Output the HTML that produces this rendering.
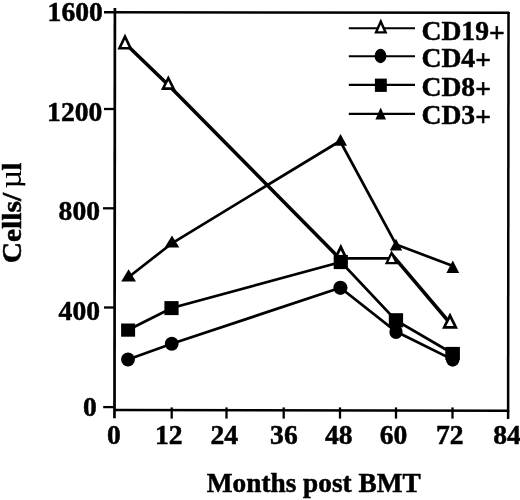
<!DOCTYPE html>
<html>
<head>
<meta charset="utf-8">
<title>Cells per µl versus months post BMT</title>
<style>
html,body{margin:0;padding:0;background:#fff;}
body{width:520px;height:500px;overflow:hidden;}
svg{display:block;filter:blur(0.3px);}
text{font-family:"Liberation Serif","DejaVu Serif",serif;font-weight:bold;fill:#000;}
</style>
</head>
<body>
<svg width="520" height="500" viewBox="0 0 520 500">
<rect x="0" y="0" width="520" height="500" fill="#fff"/>
<g stroke="#000" stroke-width="2.3" fill="none" stroke-linecap="butt">
<line x1="114.9" y1="8" x2="114.5" y2="418.3" stroke-width="2.7"/>
<line x1="104" y1="12.3" x2="509.7" y2="12.75" stroke-width="2.5"/>
<line x1="508.5" y1="12" x2="508.1" y2="419" stroke-width="2.5"/>
<line x1="114" y1="409.9" x2="509.3" y2="410.8" stroke-width="2.5"/>
<line x1="104" y1="109" x2="115" y2="109"/>
<line x1="103" y1="208.3" x2="115" y2="208.3"/>
<line x1="104" y1="307.5" x2="115" y2="307.5"/>
<line x1="103.2" y1="407.1" x2="115" y2="407.1"/>
<line x1="171.7" y1="407.4" x2="171.7" y2="418.6"/>
<line x1="226.5" y1="407.4" x2="226.5" y2="418.6"/>
<line x1="283.7" y1="407.4" x2="283.7" y2="418.6"/>
<line x1="340" y1="407.4" x2="340" y2="418.6"/>
<line x1="396" y1="407.4" x2="396" y2="418.6"/>
<line x1="452.5" y1="407.4" x2="452.5" y2="418.6"/>
</g>
<g stroke="#000" fill="none" stroke-linejoin="miter" stroke-linecap="butt">
<polyline stroke-width="2.7" points="128.75,277 172.3,243 340.1,141 396,244.5 453,266"/>
<polyline stroke-width="2.7" points="128,330 171.75,308 341,262 396,320.5 452.7,353.5"/>
<polyline stroke-width="2.7" points="128,359.5 171.75,343.75 340.4,287.8 396,331.5 452.7,359.6"/>
<polyline stroke-width="3.5" points="125,43.3 168.3,85 338.5,257.3"/>
<polyline stroke-width="2.7" points="341,258.3 392,258.3"/>
<polyline stroke-width="3.5" points="392,254.7 449.9,323"/>
</g>
<g stroke="none">
<polygon points="340.80,243.80 348.00,258.80 333.60,258.80" fill="#000"/><polygon points="340.80,250.27 343.55,256.00 338.05,256.00" fill="#fff"/>
<polygon points="128.60,269.20 136.00,281.60 121.20,281.60" fill="#000"/>
<polygon points="172.00,235.50 179.30,247.60 164.70,247.60" fill="#000"/>
<polygon points="340.50,134.00 347.00,145.70 334.00,145.70" fill="#000"/>
<polygon points="396.00,238.80 402.20,250.50 389.80,250.50" fill="#000"/>
<polygon points="452.80,260.40 459.20,273.10 446.40,273.10" fill="#000"/>
<rect x="121.1" y="323.5" width="14" height="13.2" fill="#000"/>
<rect x="164.4" y="301.1" width="14.2" height="14" fill="#000"/>
<rect x="333.7" y="254.9" width="14.2" height="14.2" fill="#000"/>
<rect x="388.8" y="313.2" width="14.3" height="14.2" fill="#000"/>
<rect x="445.3" y="346.9" width="14.6" height="13" fill="#000"/>
<ellipse cx="128" cy="359.5" rx="6.9" ry="6.9" fill="#000"/>
<ellipse cx="171.75" cy="343.75" rx="6.9" ry="6.9" fill="#000"/>
<ellipse cx="340.4" cy="287.8" rx="7.1" ry="7.1" fill="#000"/>
<ellipse cx="396" cy="331.9" rx="6.6" ry="7.2" fill="#000"/>
<ellipse cx="452.7" cy="359.6" rx="6.8" ry="7.1" fill="#000"/>
<polygon points="125.00,33.60 132.60,49.60 117.40,49.60" fill="#000"/><polygon points="125.00,39.66 128.49,47.00 121.51,47.00" fill="#fff"/>
<polygon points="168.30,75.20 175.70,89.90 160.90,89.90" fill="#000"/><polygon points="168.30,80.98 171.48,87.30 165.12,87.30" fill="#fff"/>
<polygon points="391.60,250.20 398.40,264.30 384.80,264.30" fill="#000"/><polygon points="391.60,255.38 394.82,262.05 388.38,262.05" fill="#fff"/>
<polygon points="450.00,312.60 458.00,328.80 442.00,328.80" fill="#000"/><polygon points="450.00,318.70 453.66,326.10 446.34,326.10" fill="#fff"/>
</g>
<g stroke="#000" stroke-width="2.1" fill="none">
<line x1="348.8" y1="28.3" x2="415" y2="28.3"/>
<line x1="348.8" y1="56.2" x2="415" y2="56.2"/>
<line x1="348.8" y1="84.9" x2="415" y2="84.9"/>
<line x1="348.8" y1="113.9" x2="415" y2="113.9"/>
</g>
<polygon points="380.80,18.50 387.40,33.60 374.20,33.60" fill="#000"/><polygon points="380.80,24.49 383.73,31.20 377.87,31.20" fill="#fff"/>
<ellipse cx="380.5" cy="56" rx="5.9" ry="7.2" fill="#000"/>
<rect x="374.9" y="78.6" width="11.9" height="13.3" fill="#000"/>
<polygon points="380.70,107.60 386.00,119.60 375.40,119.60" fill="#000"/>
<g font-size="27.6" stroke="#000" stroke-width="0.5">
<text x="421.5" y="39.5">CD19<tspan dy="2.3">+</tspan></text>
<text x="421.5" y="66.8">CD4<tspan dy="2.3">+</tspan></text>
<text x="421.5" y="95.5">CD8<tspan dy="2.3">+</tspan></text>
<text x="421.5" y="124">CD3<tspan dy="2.3">+</tspan></text>
</g>
<g font-size="27.6" text-anchor="end" stroke="#000" stroke-width="0.5">
<text x="102.8" y="21.2">1600</text>
<text x="102.3" y="120.7">1200</text>
<text x="100" y="220">800</text>
<text x="100" y="320">400</text>
<text x="96.8" y="415.7">0</text>
</g>
<g font-size="27.6" text-anchor="middle" stroke="#000" stroke-width="0.5">
<text x="113.9" y="444.1">0</text>
<text x="168.7" y="444.1">12</text>
<text x="224.3" y="444.1">24</text>
<text x="283.9" y="444.1">36</text>
<text x="338.8" y="444.1">48</text>
<text x="393.6" y="444.1">60</text>
<text x="449.7" y="444.1">72</text>
<text x="507" y="444.1">84</text>
</g>
<text x="206.8" y="492" font-size="27.3" stroke="#000" stroke-width="0.5">Months post BMT</text>
<clipPath id="muclip"><rect x="-10" y="-40" width="130" height="44.3"/></clipPath>
<text transform="translate(21,263.3) rotate(-90)" clip-path="url(#muclip)" font-size="28" stroke="#000" stroke-width="0.5"><tspan textLength="70.5" lengthAdjust="spacingAndGlyphs">Cells/</tspan><tspan x="74.9" font-size="32.5" style="font-weight:normal" stroke="none">µ</tspan><tspan x="92.7">l</tspan></text>
</svg>
</body>
</html>
